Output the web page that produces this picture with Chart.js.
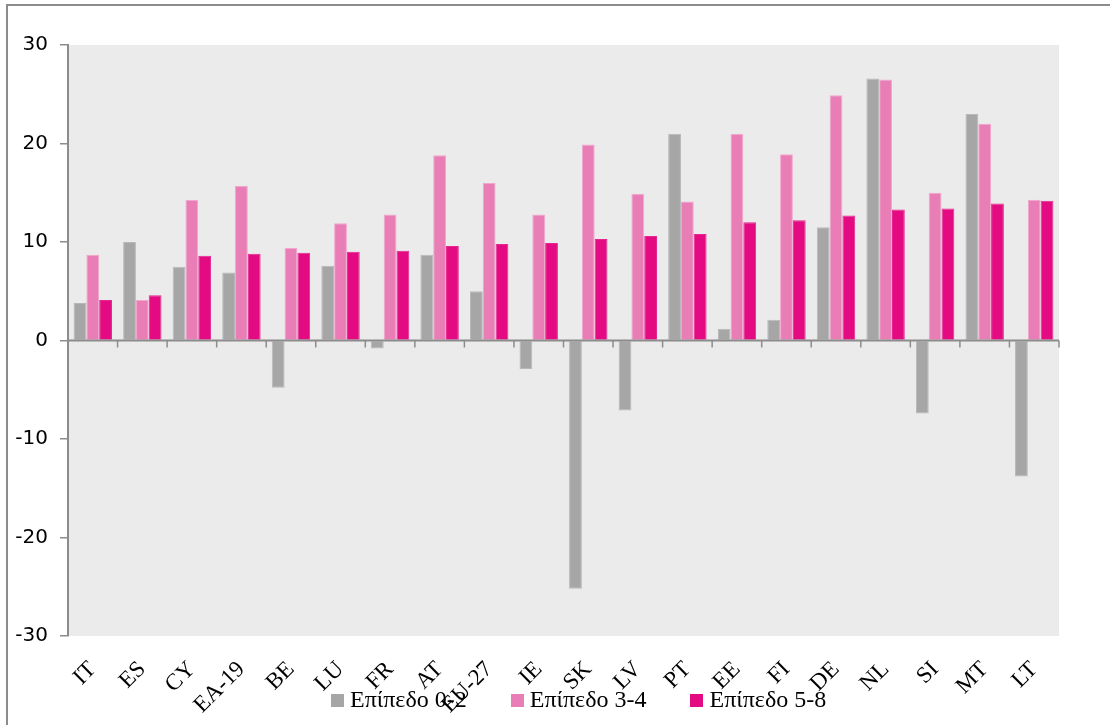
<!DOCTYPE html>
<html lang="el">
<head>
  <meta charset="UTF-8" />
  <title>Επίπεδα εκπαίδευσης</title>
  <style>
    html, body {
      margin: 0;
      padding: 0;
      background: #fff;
      overflow: hidden;
    }
    .wrap {
      position: relative;
      width: 1110px;
      height: 725px;
    }
    .frame {
      position: absolute;
      left: 6px;
      top: 4px;
      width: 1200px;
      height: 900px;
      border: 2px solid #8c8c8c;
    }
    canvas {
      position: absolute;
      left: 0;
      top: 0;
    }
    #legend {
      position: absolute;
      left: 331px;
      top: 686px;
      display: flex;
      justify-content: flex-start;
      gap: 44px;
      font-family: 'Liberation Serif', 'DejaVu Serif', serif;
      font-size: 24px;
      color: #000;
      white-space: nowrap;
    }
    #legend span.item {
      display: flex;
      align-items: center;
    }
    #legend i {
      display: inline-block;
      width: 13px;
      height: 13px;
      margin-right: 6px;
      margin-top: 2px;
    }
  </style>
</head>
<body>
  <div class="wrap">
    <div class="frame"></div>
    <canvas id="chart" width="1110" height="725"></canvas>
    <div id="legend"></div>
  </div>

  <script src="https://cdn.jsdelivr.net/npm/chart.js"></script>
  <script>
    // κατηγορίες (χώρες)
    const categories = ['IT', 'ES', 'CY', 'EA-19', 'BE', 'LU', 'FR', 'AT', 'EU-27', 'IE',
                        'SK', 'LV', 'PT', 'EE', 'FI', 'DE', 'NL', 'SI', 'MT', 'LT'];

    const seriesNames = ['Επίπεδο 0-2', 'Επίπεδο 3-4', 'Επίπεδο 5-8'];

    const level02 = [3.8, 10.0, 7.5, 6.9, -4.8, 7.6, -0.8, 8.7, 5.0, -2.9,
                     -25.2, -7.1, 21.0, 1.2, 2.1, 11.5, 26.6, -7.4, 23.0, -13.8];
    const level34 = [8.7, 4.1, 14.3, 15.7, 9.4, 11.9, 12.8, 18.8, 16.0, 12.8,
                     19.9, 14.9, 14.1, 21.0, 18.9, 24.9, 26.5, 15.0, 22.0, 14.3];
    const level58 = [4.1, 4.6, 8.6, 8.8, 8.9, 9.0, 9.1, 9.6, 9.8, 9.9,
                     10.3, 10.6, 10.8, 12.0, 12.2, 12.7, 13.3, 13.4, 13.9, 14.2];

    const yTicks = [-30, -20, -10, 0, 10, 20, 30];

    const colors = ['#a6a6a6', '#e97db5', '#e30a82'];
    const borders = ['#b8b8b8', '#f2a6cd', '#e5268f'];

    // γκρι φόντο στην περιοχή σχεδίασης
    const plotBg = {
      id: 'plotBg',
      beforeDraw(chart) {
        const a = chart.chartArea;
        const ctx = chart.ctx;
        ctx.save();
        ctx.fillStyle = '#ebebeb';
        ctx.fillRect(a.left, a.top, a.right - a.left, a.bottom - a.top);
        ctx.restore();
      }
    };

    // άξονας στο μηδέν με υποδιαιρέσεις ανάμεσα στις κατηγορίες
    const zeroAxis = {
      id: 'zeroAxis',
      afterDatasetsDraw(chart) {
        const x = chart.scales.x;
        const y0 = chart.scales.y.getPixelForValue(0);
        const ctx = chart.ctx;
        const step = (x.right - x.left) / categories.length;
        ctx.save();
        ctx.strokeStyle = '#8c8c8c';
        ctx.lineWidth = 2;
        ctx.beginPath();
        ctx.moveTo(x.left, y0);
        ctx.lineTo(x.right, y0);
        ctx.stroke();
        ctx.lineWidth = 1.5;
        for (let i = 1; i <= categories.length; i++) {
          const px = x.left + i * step;
          ctx.beginPath();
          ctx.moveTo(px, y0);
          ctx.lineTo(px, y0 + 7);
          ctx.stroke();
        }
        ctx.restore();
      }
    };

    const datasets = [level02, level34, level58].map((d, i) => ({
      label: seriesNames[i],
      data: d,
      backgroundColor: colors[i],
      borderColor: borders[i],
      borderWidth: 1,
      barPercentage: 1.0,
      categoryPercentage: 0.775
    }));

    new Chart(document.getElementById('chart'), {
      type: 'bar',
      data: { labels: categories, datasets: datasets },
      options: {
        responsive: false,
        animation: false,
        layout: { padding: { left: 0, top: 45, right: 51, bottom: 0 } },
        scales: {
          x: {
            grid: { display: false },
            border: { display: false },
            ticks: {
              color: '#000',
              font: { family: "'Liberation Serif', 'DejaVu Serif', serif", size: 23 },
              minRotation: 45,
              maxRotation: 45,
              padding: 12
            },
            afterFit(scale) { scale.height = 89; }
          },
          y: {
            min: -30,
            max: 30,
            afterBuildTicks(scale) { scale.ticks = yTicks.map(v => ({ value: v })); },
            grid: {
              drawOnChartArea: false,
              drawTicks: true,
              tickLength: 8,
              color: '#8c8c8c',
              lineWidth: 1.5
            },
            border: { display: true, color: '#8c8c8c', width: 2 },
            ticks: {
              color: '#000',
              font: { family: "'DejaVu Sans', sans-serif", size: 20 },
              padding: 12
            },
            afterFit(scale) { scale.width = 68; }
          }
        },
        plugins: {
          legend: { display: false },
          tooltip: { enabled: false }
        }
      },
      plugins: [plotBg, zeroAxis]
    });

    // υπόμνημα
    const legend = document.getElementById('legend');
    seriesNames.forEach((name, i) => {
      const item = document.createElement('span');
      item.className = 'item';
      const box = document.createElement('i');
      box.style.background = colors[i];
      item.appendChild(box);
      item.appendChild(document.createTextNode(name));
      legend.appendChild(item);
    });
  </script>
</body>
</html>
